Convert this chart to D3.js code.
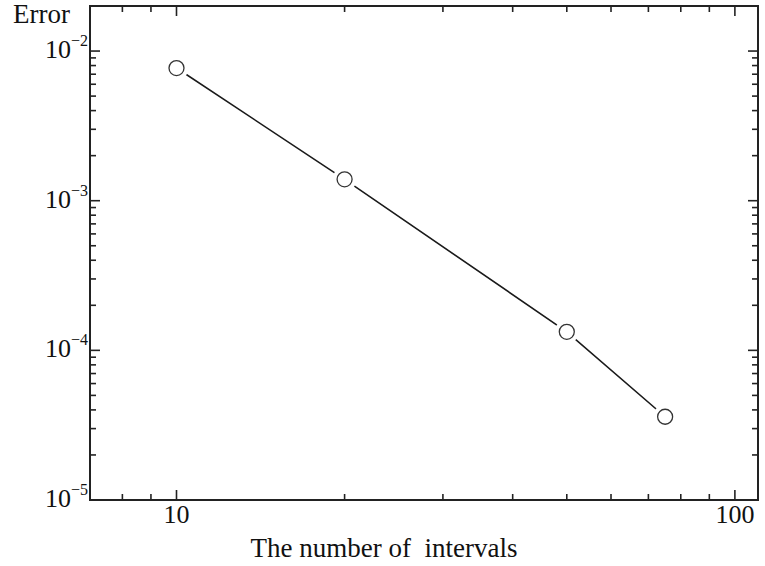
<!DOCTYPE html>
<html>
<head>
<meta charset="utf-8">
<script src="https://cdn.jsdelivr.net/npm/d3@7"></script>
<style>
  body { margin: 0; background: #fff; }
  text { font-family: "Liberation Serif", "DejaVu Serif", serif; fill: #111; }
</style>
</head>
<body>
<div id="chart"></div>
<script>
// data
const intervals = [10, 20, 50, 75];
const errors = [7.7e-3, 1.39e-3, 1.33e-4, 3.6e-5];
const xMajor = [10, 100];
const xMinor = [8, 9, 20, 30, 40, 50, 60, 70, 80, 90];
const yMajor = [1e-2, 1e-3, 1e-4, 1e-5];
const yExp = ["−2", "−3", "−4", "−5"];

const W = 765, H = 566;
const margin = { top: 6, right: 7, bottom: 66, left: 90 };

const svg = d3.select('#chart').append('svg')
    .attr('width', W)
    .attr('height', H);

const x = d3.scaleLog()
    .domain([7, 110])
    .range([margin.left, W - margin.right]);

const y = d3.scaleLog()
    .domain([1e-5, 2e-2])
    .range([H - margin.bottom, margin.top]);

// minor y ticks: 2..9 in each decade
const yMinor = [];
[1e-5, 1e-4, 1e-3].forEach(d => {
    for (let k = 2; k <= 9; k++) yMinor.push(d * k);
});

const axisColor = '#222';
const x0 = margin.left, x1 = W - margin.right;
const y0 = H - margin.bottom, y1 = margin.top;

// inward ticks on all four sides
const ticks = svg.append('g').attr('stroke', axisColor).attr('stroke-width', 1.6);

function xTicks(vals, len) {
    vals.forEach(v => {
        ticks.append('line').attr('x1', x(v)).attr('x2', x(v)).attr('y1', y0).attr('y2', y0 - len);
        ticks.append('line').attr('x1', x(v)).attr('x2', x(v)).attr('y1', y1).attr('y2', y1 + len);
    });
}
function yTicks(vals, len) {
    vals.forEach(v => {
        ticks.append('line').attr('y1', y(v)).attr('y2', y(v)).attr('x1', x0).attr('x2', x0 + len);
        ticks.append('line').attr('y1', y(v)).attr('y2', y(v)).attr('x1', x1).attr('x2', x1 - len);
    });
}
xTicks(xMajor, 10);
xTicks(xMinor, 6);
yTicks(yMajor, 10);
yTicks(yMinor, 6);

// frame
svg.append('rect')
    .attr('x', x0).attr('y', y1)
    .attr('width', x1 - x0).attr('height', y0 - y1)
    .attr('fill', 'none')
    .attr('stroke', axisColor)
    .attr('stroke-width', 2);

// x tick labels
svg.selectAll('text.xlab')
    .data(xMajor)
    .enter().append('text')
    .attr('class', 'xlab')
    .attr('x', d => x(d))
    .attr('y', y0 + 23)
    .attr('text-anchor', 'middle')
    .style('font-size', '26px')
    .text(d => d);

// y tick labels 10^n
yMajor.forEach((v, i) => {
    const t = svg.append('text')
        .attr('x', x0 - 2)
        .attr('y', y(v) + 7)
        .attr('text-anchor', 'end')
        .style('font-size', '26px');
    t.append('tspan').text('10');
    t.append('tspan')
        .attr('dy', -12)
        .style('font-size', '16px')
        .text(yExp[i]);
});

// axis titles
svg.append('text')
    .attr('x', 13)
    .attr('y', 23)
    .style('font-size', '27px')
    .text('Error');

svg.append('text')
    .attr('x', 384)
    .attr('y', 557)
    .attr('text-anchor', 'middle')
    .style('font-size', '27px')
    .style('white-space', 'pre')
    .attr('xml:space', 'preserve')
    .text('The number of  intervals');

// line + markers
const pts = intervals.map((d, i) => [d, errors[i]]);
const line = d3.line().x(d => x(d[0])).y(d => y(d[1]));

svg.append('path')
    .datum(pts)
    .attr('d', line)
    .attr('fill', 'none')
    .attr('stroke', '#1a1a1a')
    .attr('stroke-width', 1.6);

// white halo so the line stops short of each marker
svg.selectAll('circle.halo')
    .data(pts)
    .enter().append('circle')
    .attr('class', 'halo')
    .attr('cx', d => x(d[0]))
    .attr('cy', d => y(d[1]))
    .attr('r', 12)
    .attr('fill', '#fff');

svg.selectAll('circle.pt')
    .data(pts)
    .enter().append('circle')
    .attr('class', 'pt')
    .attr('cx', d => x(d[0]))
    .attr('cy', d => y(d[1]))
    .attr('r', 7.5)
    .attr('fill', '#fff')
    .attr('stroke', '#333')
    .attr('stroke-width', 1.3);
</script>
</body>
</html>
